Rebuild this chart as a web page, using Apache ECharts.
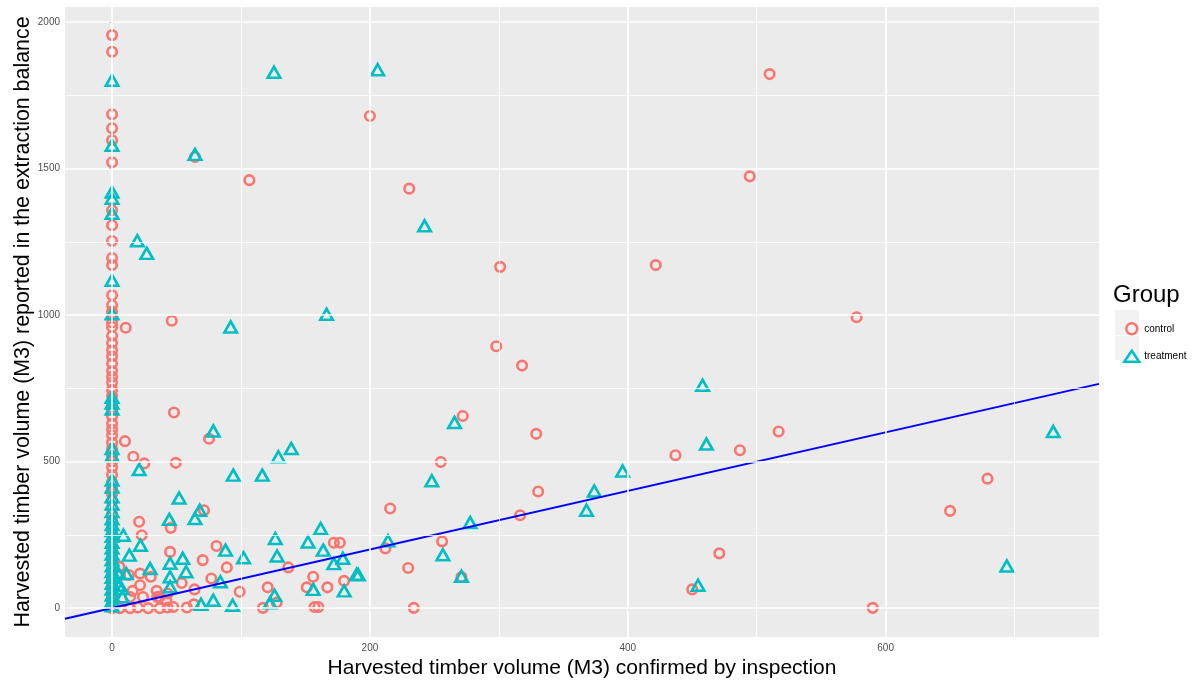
<!DOCTYPE html>
<html>
<head>
<meta charset="utf-8">
<script src="https://cdn.jsdelivr.net/npm/echarts@6/dist/echarts.min.js"></script>
<style>
html,body{margin:0;padding:0;background:#fff;}
#chart{width:1197px;height:683px;}
</style>
</head>
<body>
<div id="chart"></div>
<script>
// ---------------- data ----------------
const groups = ['control', 'treatment'];

// control group (circles): [confirmed by inspection, reported in extraction balance]
const controlZeroColumn = [1956, 1899, 1686, 1638, 1597, 1522, 1358, 1307, 1253, 1195, 1171, 1068, 1034, 1012, 1000,
  975, 960, 930, 905, 880, 860, 835, 810, 790, 770, 745, 725, 700, 680, 655, 630, 610, 590, 565, 545, 520, 500,
  480, 455, 430, 410, 390, 365, 340, 320, 300, 275, 255, 230, 210, 190, 165, 145, 120, 100, 80, 60, 40, 20, 0];
const controlPoints = [
  [10.6, 957], [46.3, 981], [64.3, 1540], [106.5, 1461], [200, 1680], [230.5, 1432], [301, 1165], [421.7, 1171],
  [494.6, 1474], [510, 1823], [577.5, 993],
  [48, 668], [75.2, 578], [10, 570], [16.5, 517], [25, 494], [49.4, 496], [71.3, 334], [21, 295], [45.5, 274],
  [23, 249], [45, 192], [70.3, 164], [81, 212], [89, 139], [99, 56], [64, 64], [77, 101], [54, 86], [63.5, 13],
  [58, 2], [47.5, 4], [21.7, 118], [30, 107], [21.7, 78], [16, 59], [5.7, 141], [6, 113], [13, 113], [34.6, 59],
  [37, 39], [43, 50], [42, 27], [6, 0], [14, 0], [20, 2], [28, 0], [37, 0], [43, 2], [14, 38], [24, 38], [35, 38],
  [172, 223], [176.7, 223], [136.7, 139], [156, 107], [180, 93], [120.7, 71], [151, 71], [167, 71], [117, 1],
  [127.7, 19], [157, 4], [160, 4],
  [298, 894], [318, 828], [272, 656], [329, 595], [437, 522], [487, 539], [517, 603], [255, 499], [330.5, 398],
  [316.5, 317], [215.7, 340], [212, 204], [256, 228], [229.7, 137], [271, 106], [234, 1], [471, 187], [450, 64],
  [679, 442], [650, 332], [590, 1]
];

// treatment group (triangles)
const treatmentZeroColumn = [1802, 1580, 1420, 1399, 1348, 1119, 1005, 720, 700, 680, 545, 520, 437, 413, 380, 355,
  330, 305, 285, 265, 245, 225, 205, 185, 165, 145, 125, 105, 85, 65, 45, 25, 8];
const treatmentPoints = [
  [125.6, 1829], [206, 1838], [64.3, 1549], [242.4, 1305], [19.6, 1254], [26.9, 1211], [92, 960], [166.4, 1003],
  [78.5, 605], [129, 517], [139, 545], [21, 473], [94, 454], [116.5, 454], [52, 376], [68, 334], [64.3, 306],
  [44.4, 303], [8.8, 249], [22, 215], [13.4, 181], [45, 153], [45, 107], [54.8, 170], [57.4, 124], [29.5, 135],
  [7.5, 67], [5, 118], [8, 39], [88, 198], [102, 172], [84, 90], [78.5, 27], [69, 13], [93.5, 10], [45, 73],
  [11, 118], [5, 78],
  [161.8, 272], [126.6, 238], [152, 226], [163.8, 198], [128, 178], [179, 170], [172, 152], [189.7, 116],
  [156, 64], [180, 59], [126, 44], [122.5, 18],
  [458, 761], [265.6, 634], [461, 560], [396, 468], [248, 435], [374, 400], [368, 334], [277.8, 292], [214, 230],
  [256.6, 182], [191, 114], [271, 109], [454.5, 78], [730, 603], [694, 144]
];

// reference line y = intercept + slope * x
const refIntercept = 0;
const refSlope = 1;

// axes
const xRange = [-36.5, 765.5];
const yRange = [-98.5, 2052];
const xMajorTicks = [0, 200, 400, 600];
const xMinorTicks = [100, 300, 500, 700];
const yMajorTicks = [0, 500, 1000, 1500, 2000];
const yMinorTicks = [250, 750, 1250, 1750];

const xTitle = 'Harvested timber volume (M3) confirmed by inspection';
const yTitle = 'Harvested timber volume (M3) reported in the extraction balance';
const legendTitle = 'Group';

// ---------------- chart ----------------
const FONT = 'Liberation Sans, Arial, sans-serif';
const COL_CTRL = '#F8766D';
const COL_TRT = '#00BFC4';

const controlData = controlZeroColumn.map(v => [0, v]).concat(controlPoints);
const treatmentData = treatmentZeroColumn.map(v => [0, v]).concat(treatmentPoints);
const refLineData = xRange.map(x => [x, refIntercept + refSlope * x]);

const gridLines = [];
xMajorTicks.forEach(v => gridLines.push({xAxis: v, lineStyle: {color: '#fff', width: 1.7, type: 'solid'}}));
xMinorTicks.forEach(v => gridLines.push({xAxis: v, lineStyle: {color: '#fff', width: 0.8, type: 'solid'}}));
yMajorTicks.forEach(v => gridLines.push({yAxis: v, lineStyle: {color: '#fff', width: 1.7, type: 'solid'}}));
yMinorTicks.forEach(v => gridLines.push({yAxis: v, lineStyle: {color: '#fff', width: 0.8, type: 'solid'}}));

const plain = v => String(v);

const chart = echarts.init(document.getElementById('chart'), null, {renderer: 'canvas'});
chart.setOption({
  animation: false,
  backgroundColor: '#fff',
  textStyle: {fontFamily: FONT},
  grid: {left: 65, right: 98, top: 7, bottom: 46, show: true, backgroundColor: '#EBEBEB', borderWidth: 0,
         containLabel: false, outerBoundsMode: 'none'},
  xAxis: {
    type: 'value', min: xRange[0], max: xRange[1],
    name: xTitle, nameLocation: 'middle', nameGap: 16,
    nameTextStyle: {fontSize: 21, color: '#000', fontFamily: FONT},
    axisLine: {show: false},
    axisTick: {show: true, customValues: xMajorTicks, length: 3, lineStyle: {color: '#333', width: 1}},
    axisLabel: {customValues: xMajorTicks, formatter: plain, color: '#4D4D4D', fontSize: 10, margin: 6, fontFamily: FONT},
    splitLine: {show: false}
  },
  yAxis: {
    type: 'value', min: yRange[0], max: yRange[1],
    name: yTitle, nameLocation: 'middle', nameGap: 31, nameRotate: 90, nameMoveOverlap: false,
    nameTextStyle: {fontSize: 21.4, color: '#000', fontFamily: FONT},
    axisLine: {show: false},
    axisTick: {show: true, customValues: yMajorTicks, length: 3, lineStyle: {color: '#333', width: 1}},
    axisLabel: {customValues: yMajorTicks, formatter: plain, color: '#4D4D4D', fontSize: 10, margin: 5, fontFamily: FONT},
    splitLine: {show: false}
  },
  legend: {
    orient: 'vertical', left: 1118, top: 317, itemWidth: 15, itemHeight: 11, itemGap: 14,
    textStyle: {fontSize: 10, color: '#000', fontFamily: FONT},
    data: [
      {name: 'control', icon: 'circle', itemStyle: {color: 'rgba(0,0,0,0)', borderColor: COL_CTRL, borderWidth: 2.5}},
      {name: 'treatment', icon: 'triangle', itemStyle: {color: 'rgba(0,0,0,0)', borderColor: COL_TRT, borderWidth: 2.5}}
    ]
  },
  graphic: [
    {type: 'text', left: 1113, top: 283, style: {text: legendTitle, font: '24px ' + FONT, fill: '#000'}},
    {type: 'rect', left: 1115, top: 310, shape: {width: 24, height: 25}, style: {fill: '#F2F2F2'}, z: -1},
    {type: 'rect', left: 1115, top: 336, shape: {width: 24, height: 24}, style: {fill: '#F2F2F2'}, z: -1}
  ],
  series: [
    {
      name: 'grid', type: 'scatter', data: [], z: 1, silent: true,
      markLine: {silent: true, symbol: 'none', animation: false, label: {show: false}, data: gridLines}
    },
    {
      name: groups[0], type: 'scatter', data: controlData, z: 2,
      symbol: 'circle', symbolSize: 9.5,
      itemStyle: {color: 'rgba(0,0,0,0)', borderColor: COL_CTRL, borderWidth: 2.6, opacity: 1}
    },
    {
      name: groups[1], type: 'scatter', data: treatmentData, z: 2,
      symbol: 'triangle', symbolSize: [12.5, 11],
      itemStyle: {color: 'rgba(0,0,0,0)', borderColor: COL_TRT, borderWidth: 2.6, opacity: 1}
    },
    {
      name: 'ref', type: 'line', data: refLineData, z: 4, silent: true,
      symbol: 'none', lineStyle: {color: '#0000FF', width: 2}
    }
  ]
});
</script>
</body>
</html>
